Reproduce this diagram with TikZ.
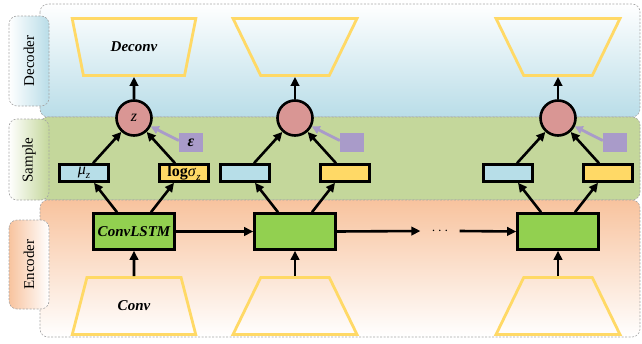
\documentclass[tikz,border=0pt]{standalone}
\usepackage{fontspec}
\setmainfont{Liberation Serif}
\usepackage{tikz}
\usetikzlibrary{shapes.geometric,arrows.meta}

\definecolor{zred}{HTML}{D99694}
\definecolor{mublue}{HTML}{B7DEE8}
\definecolor{sigyellow}{HTML}{FFD966}
\definecolor{lstmgreen}{HTML}{92D050}
\definecolor{epspurple}{HTML}{A99BC9}
\definecolor{trapgold}{HTML}{FFD966}
\definecolor{decblue}{HTML}{B9DDE8}
\definecolor{samgreen}{HTML}{C4D79B}
\definecolor{encorange}{HTML}{F8C39E}
\definecolor{dashgray}{HTML}{A6A6A6}

\tikzset{
    band/.style={draw=dashgray, line width=0.6pt, dash pattern=on 2pt off 1.5pt,
    	rounded corners=8pt}
}
\tikzset{
    tagtext/.style={rotate=90, font=\fontsize{15}{17}\selectfont}
}
\tikzset{
    dectrap/.style={trapezium, draw=trapgold, line width=2.8pt, inner sep=2pt,
    	trapezium stretches=true, trapezium angle=68, minimum width=124pt,
    	minimum height=57pt, shape border rotate=180,
    	font=\fontsize{15}{17}\selectfont\bfseries\itshape},
    enctrap/.style={dectrap, shape border rotate=0}
}
\tikzset{
    zcirc/.style={circle, draw, fill=zred, line width=2.6pt, minimum size=35pt,
    	inner sep=0pt, font=\fontsize{16}{18}\selectfont\itshape},
    epsbox/.style={rectangle, fill=epspurple, minimum width=24pt, minimum height=19pt,
    	inner sep=0pt, font=\fontsize{16}{18}\selectfont\bfseries\itshape},
    mubox/.style={rectangle, draw, fill=mublue, line width=2.6pt, minimum width=49pt,
    	minimum height=17pt, inner sep=0pt, font=\fontsize{16}{18}\selectfont},
    sigbox/.style={mubox, fill=sigyellow},
    lstmbox/.style={rectangle, draw, fill=lstmgreen, line width=2.6pt,
    	minimum width=81pt, minimum height=36pt, inner sep=0pt,
    	font=\fontsize{15}{17}\selectfont\bfseries\itshape}
}
\tikzset{
    arr/.style={-{Triangle[length=9pt,width=8.5pt]}, line width=2.6pt},
    epsarr/.style={-{Triangle[length=8pt,width=8pt]}, draw=epspurple, line width=2.8pt}
}
\newcommand{\subz}{\raisebox{-0.45ex}{\fontsize{11}{12}\selectfont\itshape z}}

\begin{document}
\begin{tikzpicture}[x=1pt, y=-1pt]
  \useasboundingbox (0,0) rectangle (642,343);

  % bands
  \path[band, top color=white, bottom color=decblue] (40,4) rectangle (640,117);
  \path[band, fill=samgreen] (40,117) rectangle (640,200);
  \path[band, top color=encorange, bottom color=white] (40,200) rectangle (640,337);

  \path[band, left color=white, right color=decblue] (9,16) rectangle (49,106);
  \path[band, left color=white, right color=samgreen] (9,119) rectangle (49,200);
  \path[band, left color=encorange, right color=white] (9,220) rectangle (49,309);
  \node[tagtext] (dectag) at (29,61) {Decoder};
  \node[tagtext] (samtag) at (29,160) {Sample};
  \node[tagtext] (enctag) at (29,264.5) {Encoder};

  % first step
  \node[dectrap] (dec1) at (134,47) {Deconv};
  \node[zcirc] (z1) at (134,118) {z};
  \node[epsbox] (eps1) at (191,142.5) {ε};
  \node[mubox] (mu1) at (84,173) {\textit{μ}\subz};
  \node[sigbox] (sig1) at (184,173) {\textbf{log}\textit{σ}\subz};
  \node[lstmbox] (lstm1) at (134,231.5) {ConvLSTM};
  \node[enctrap] (enc1) at (134,306) {Conv};

  % second step
  \node[dectrap] (dec2) at (295,47) {};
  \node[zcirc] (z2) at (295,118) {};
  \node[epsbox] (eps2) at (352,142.5) {};
  \node[mubox] (mu2) at (245,173) {};
  \node[sigbox] (sig2) at (345,173) {};
  \node[lstmbox] (lstm2) at (295,231.5) {};
  \node[enctrap] (enc2) at (295,306) {};

  % last step
  \node[dectrap] (dec3) at (558,47) {};
  \node[zcirc] (z3) at (558,118) {};
  \node[epsbox] (eps3) at (615,142.5) {};
  \node[mubox] (mu3) at (508,173) {};
  \node[sigbox] (sig3) at (608,173) {};
  \node[lstmbox] (lstm3) at (558,231.5) {};
  \node[enctrap] (enc3) at (558,306) {};

  \node[font=\fontsize{14}{16}\selectfont, inner xsep=11pt] (dots) at (440,231) {$\cdots$};

  \draw[arr] (enc1.north) -- (lstm1.south); \draw[arr] (enc2.north) -- (lstm2.south);
  \draw[arr] (enc3.north) -- (lstm3.south);
  \draw[arr] ([xshift=-17pt]lstm1.north) -- ([xshift=10pt]mu1.south);
  \draw[arr] ([xshift=17pt]lstm1.north) -- ([xshift=-10pt]sig1.south);
  \draw[arr] ([xshift=-17pt]lstm2.north) -- ([xshift=10pt]mu2.south);
  \draw[arr] ([xshift=17pt]lstm2.north) -- ([xshift=-10pt]sig2.south);
  \draw[arr] ([xshift=-17pt]lstm3.north) -- ([xshift=10pt]mu3.south);
  \draw[arr] ([xshift=17pt]lstm3.north) -- ([xshift=-10pt]sig3.south);
  \draw[arr] ([xshift=9pt]mu1.north) -- (z1); \draw[arr] ([xshift=-9pt]sig1.north) -- (z1);
  \draw[arr] ([xshift=9pt]mu2.north) -- (z2); \draw[arr] ([xshift=-9pt]sig2.north) -- (z2);
  \draw[arr] ([xshift=9pt]mu3.north) -- (z3); \draw[arr] ([xshift=-9pt]sig3.north) -- (z3);
  \draw[epsarr] ([yshift=2pt]eps1.west) -- (z1);
  \draw[epsarr] ([yshift=2pt]eps2.west) -- (z2);
  \draw[epsarr] ([yshift=2pt]eps3.west) -- (z3);
  \draw[arr] (z1) -- (dec1.south); \draw[arr] (z2) -- (dec2.south);
  \draw[arr] (z3) -- (dec3.south);
  \draw[arr] (lstm1.east) -- (lstm2.west);
  \draw[arr] (lstm2.east) -- (dots.west);
  \draw[arr] (dots.east) -- (lstm3.west);
\end{tikzpicture}
\end{document}
